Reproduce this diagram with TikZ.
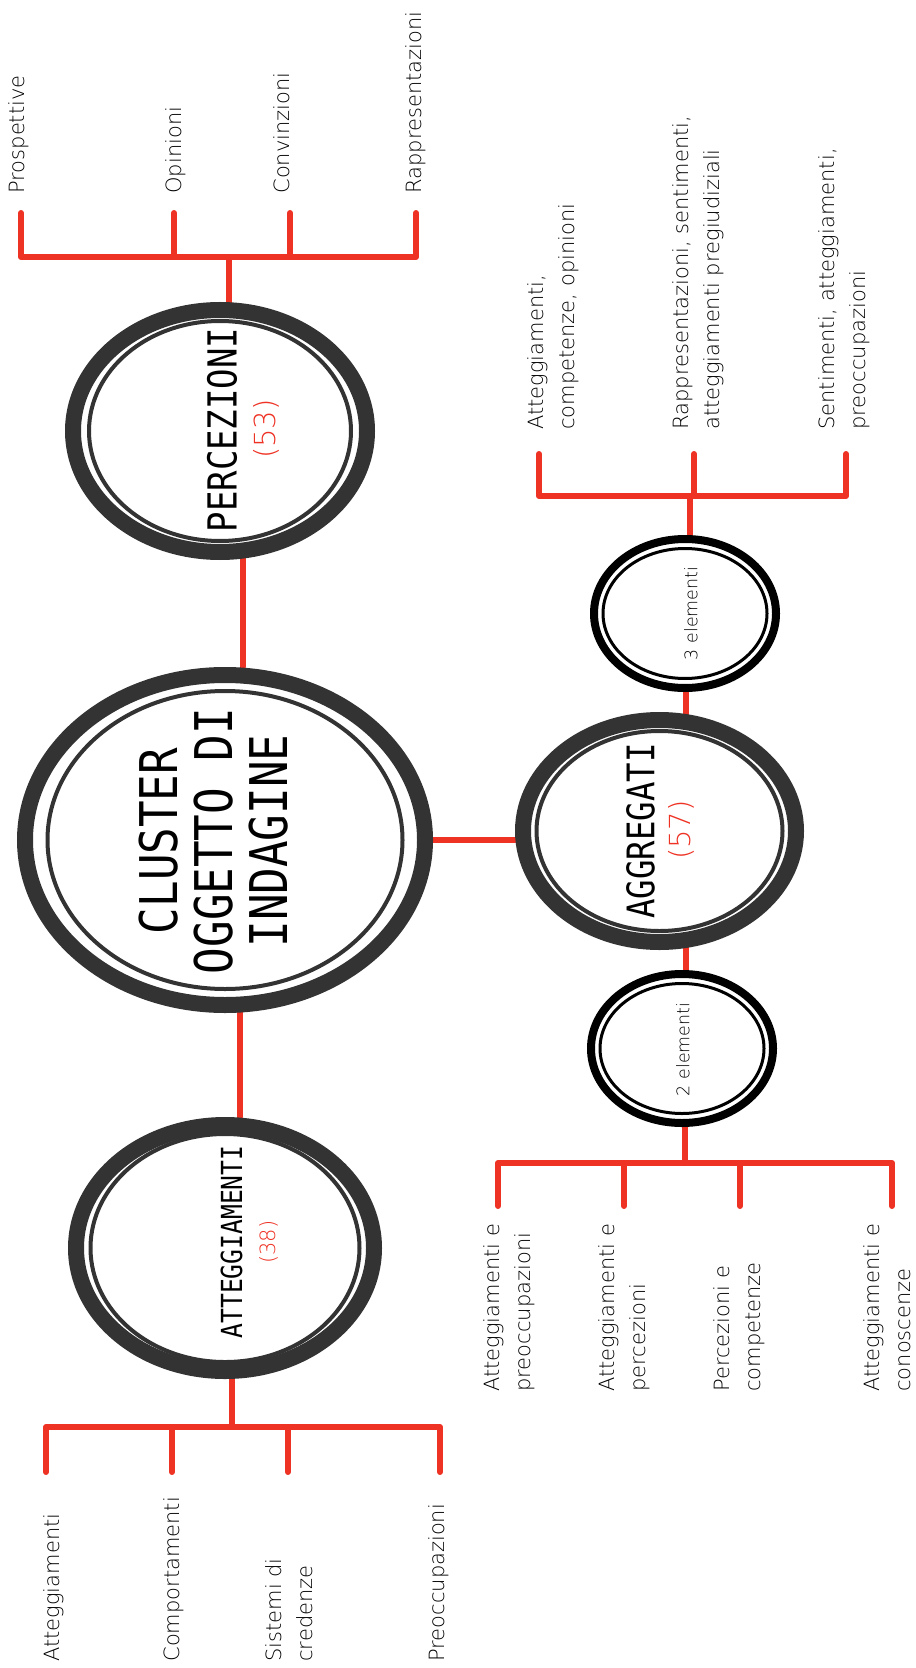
\documentclass[tikz,border=0pt]{standalone}
\usepackage{fontspec}
\usepackage{xcolor}
\usepackage{tikz}
\usetikzlibrary{shapes.geometric, backgrounds, positioning}
\setmainfont{DejaVu Sans}
\newfontfamily\titlefont[FakeStretch=0.85]{DejaVu Sans Mono}
\IfFontExistsTF{DejaVu Sans ExtraLight}{\newfontfamily\leaffont{DejaVu Sans ExtraLight}}{\newfontfamily\leaffont{DejaVu Sans}}
\definecolor{linkred}{RGB}{238,50,36}
\definecolor{ringgray}{RGB}{51,51,51}

\begin{document}
\begin{tikzpicture}[x=0.5pt, y=-0.5pt,
    bigring/.style={draw=ringgray, ellipse, line width=8pt, inner sep=0pt},
    biginner/.style={draw=ringgray, ellipse, line width=2pt, inner sep=0pt},
    smallring/.style={draw=black, ellipse, line width=4pt, inner sep=0pt},
    smallinner/.style={draw=black, ellipse, line width=1.5pt, inner sep=0pt},
    title/.style={rotate=90, inner sep=0pt, text=black},
    count/.style={rotate=90, inner sep=0pt, text=linkred, font={\leaffont\fontsize{14.5}{16}\selectfont}},
    leaf/.style={rotate=90, anchor=north west, inner sep=0pt, align=left, font={\leaffont\fontsize{10.5}{15.5}\selectfont}},
    link/.style={draw=linkred, line width=3pt, line cap=round, line join=round}]
    \useasboundingbox (0,0) rectangle (915,1668);

    % rings
    \node[bigring, minimum width=200pt, minimum height=165pt] (clu) at (225,840) {};
    \node[biginner, minimum width=177.5pt, minimum height=149pt] (clu-in) at (clu) {};
    \node[title, align=center, font={\titlefont\fontsize{26}{27.5}\selectfont}] (clu-t) at (214,841) {CLUSTER\\OGGETTO DI\\INDAGINE};

    \node[bigring, minimum width=147pt, minimum height=121pt] (perc) at (220,431) {};
    \node[biginner, minimum width=131pt, minimum height=110pt] (perc-in) at (perc) {};
    \node[title, font={\titlefont\fontsize{20}{22}\selectfont}] (perc-t) at (222,430) {PERCEZIONI};
    \node[count] (perc-n) at (266,429) {(53)};

    \node[bigring, minimum width=136.5pt, minimum height=111pt] (agg) at (659.5,831) {};
    \node[biginner, minimum width=123pt, minimum height=100pt] (agg-in) at (agg) {};
    \node[title, font={\titlefont\fontsize{19}{21}\selectfont}] (agg-t) at (640.5,831) {AGGREGATI};
    \node[count] (agg-n) at (681.5,830) {(57)};

    \node[bigring, minimum width=149pt, minimum height=123pt] (att) at (225,1248) {};
    \node[biginner, minimum width=134.5pt, minimum height=114pt] (att-in) at (att) {};
    \node[title, font={\titlefont\fontsize{14.5}{16}\selectfont}] (att-t) at (231.5,1242) {ATTEGGIAMENTI};
    \node[count, font={\leaffont\fontsize{10.5}{12}\selectfont}] (att-n) at (268.5,1242) {(38)};

    \node[smallring, minimum width=91pt, minimum height=74.5pt] (el3) at (685,613.5) {};
    \node[smallinner, minimum width=82pt, minimum height=65pt] (el3-in) at (el3) {};
    \node[title, font={\leaffont\fontsize{8.7}{10}\selectfont}] (el3-t) at (691,613.5) {3 elementi};

    \node[smallring, minimum width=91pt, minimum height=74.5pt] (el2) at (682,1048.5) {};
    \node[smallinner, minimum width=82pt, minimum height=65pt] (el2-in) at (el2) {};
    \node[title, font={\leaffont\fontsize{8.7}{10}\selectfont}] (el2-t) at (683,1049.5) {2 elementi};

    % percezioni
    \coordinate (pbar) at (0,257);
    \coordinate (pt1) at (21,213);
    \coordinate (pt2) at (174,213);
    \coordinate (pt3) at (290,213);
    \coordinate (pt4) at (416,213);
    \node[leaf] (lp1) at (8,194) {Prospettive};
    \node[leaf] (lp2) at (165,194) {Opinioni};
    \node[leaf] (lp3) at (273,194) {Convinzioni};
    \node[leaf] (lp4) at (405,194) {Rappresentazioni};

    % 3 elementi
    \coordinate (tbar) at (0,496);
    \coordinate (tt1) at (539,454);
    \coordinate (tt2) at (694,454);
    \coordinate (tt3) at (846,454);
    \node[leaf] (lt1) at (527,430) {Atteggiamenti,\\competenze, opinioni};
    \node[leaf] (lt2) at (672,430) {Rappresentazioni, sentimenti,\\atteggiamenti pregiudiziali};
    \node[leaf] (lt3) at (818,430) {Sentimenti, atteggiamenti,\\preoccupazioni};

    % 2 elementi
    \coordinate (dbar) at (0,1163);
    \coordinate (dt1) at (498,1206);
    \coordinate (dt2) at (624,1206);
    \coordinate (dt3) at (740,1206);
    \coordinate (dt4) at (892,1206);
    \node[leaf] (ld1) at (483,1392) {Atteggiamenti e\\preoccupazioni};
    \node[leaf] (ld2) at (598,1392) {Atteggiamenti e\\percezioni};
    \node[leaf] (ld3) at (713,1392) {Percezioni e\\competenze};
    \node[leaf] (ld4) at (863,1392) {Atteggiamenti e\\conoscenze};

    % atteggiamenti
    \coordinate (abar) at (0,1427);
    \coordinate (at1) at (46,1472);
    \coordinate (at2) at (172,1472);
    \coordinate (at3) at (288,1472);
    \coordinate (at4) at (440,1472);
    \node[leaf] (la1) at (43,1662) {Atteggiamenti};
    \node[leaf] (la2) at (163,1662) {Comportamenti};
    \node[leaf] (la3) at (265,1662) {Sistemi di\\credenze};
    \node[leaf] (la4) at (428,1662) {Preoccupazioni};

    \begin{scope}[on background layer]
        \draw[link] (perc.-80) -- (perc.-80 |- clu.north);
        \draw[link] (clu.-85) -- (clu.-85 |- att.north);
        \draw[link] (clu.east) -- (clu.east -| agg.west);
        \draw[link] (agg.77) -- (agg.77 |- el3.south);
        \draw[link] (agg.-77) -- (agg.-77 |- el2.north);

        \draw[link] (perc.86) -- (perc.86 |- pbar);
        \draw[link] (pt1) |- (pbar -| pt4) -- (pt4);
        \draw[link] (pt2) -- (pt2 |- pbar);
        \draw[link] (pt3) -- (pt3 |- pbar);

        \draw[link] (el3.86) -- (el3.86 |- tbar);
        \draw[link] (tt1) |- (tbar -| tt3) -- (tt3);
        \draw[link] (tt2) -- (tt2 |- tbar);

        \draw[link] (el2.-88) -- (el2.-88 |- dbar);
        \draw[link] (dt1) |- (dbar -| dt4) -- (dt4);
        \draw[link] (dt2) -- (dt2 |- dbar);
        \draw[link] (dt3) -- (dt3 |- dbar);

        \draw[link] (att.-87) -- (att.-87 |- abar);
        \draw[link] (at1) |- (abar -| at4) -- (at4);
        \draw[link] (at2) -- (at2 |- abar);
        \draw[link] (at3) -- (at3 |- abar);
    \end{scope}
\end{tikzpicture}
\end{document}
